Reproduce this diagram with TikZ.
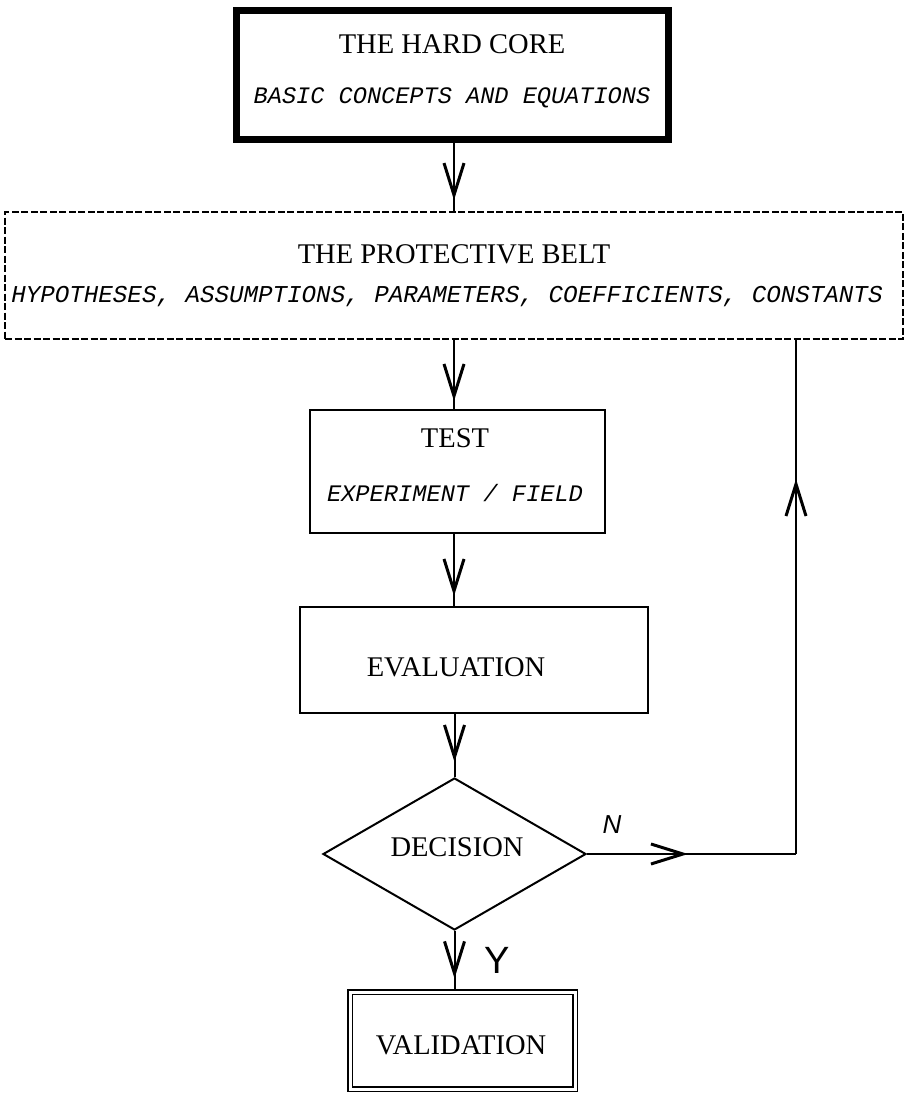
\documentclass[tikz,border=0pt]{standalone}
\usepackage{fontspec}
\setmainfont{Liberation Serif}
\setmonofont{Liberation Mono}
\setsansfont{Liberation Sans}
\usetikzlibrary{arrows.meta,decorations.markings,shapes.geometric}
\begin{document}
\begin{tikzpicture}[x=1pt,y=-1pt,
  boxed/.style={draw, line width=2pt, inner sep=0pt},
  title/.style={font=\fontsize{28.5}{30}\selectfont},
  sub/.style={font=\fontsize{24}{26}\selectfont\ttfamily\itshape},
  hand/.style={font=\fontsize{26}{28}\selectfont\sffamily\itshape},
  conn/.style={line width=2pt},
  headat/.style={postaction={decorate}, decoration={markings,
     mark=at position #1 with {\arrow[line width=3pt]{Straight Barb[length=32pt,width=20pt]}}}}
]
\useasboundingbox (0,0) rectangle (906,1093);

% boxes
\node[boxed, line width=7pt, minimum width=432pt, minimum height=129pt] (hc) at (452,74.5) {};
\node[boxed, line width=1.8pt, dash pattern=on 7pt off 2.5pt, minimum width=898pt, minimum height=127pt] (pb) at (454,275.5) {};
\node[boxed, minimum width=295pt, minimum height=123pt] (test) at (457.5,471.5) {};
\node[boxed, minimum width=348pt, minimum height=106pt] (eval) at (474,660) {};
\node[boxed, diamond, minimum width=263pt, minimum height=152pt, aspect=1.73] (dec) at (454.5,854) {};
\node[draw, line width=1.2pt, double, double distance=3pt, inner sep=0pt, minimum width=225pt, minimum height=97pt] (val) at (462.5,1040.5) {};

% texts
\node[title] (hct) at (452,44) {THE HARD CORE};
\node[sub, font=\fontsize{23.6}{26}\selectfont\ttfamily\itshape] (hcs) at (452,98) {BASIC CONCEPTS AND EQUATIONS};
\node[title] (pbt) at (454,254) {THE PROTECTIVE BELT};
\node[sub, font=\fontsize{24.2}{26}\selectfont\ttfamily\itshape] (pbs) at (447,297) {HYPOTHESES, ASSUMPTIONS, PARAMETERS, COEFFICIENTS, CONSTANTS};
\node[title] (tt) at (455,438) {TEST};
\node[sub, font=\fontsize{23.7}{26}\selectfont\ttfamily\itshape] (ts) at (455,493) {EXPERIMENT / FIELD};
\node[title] (et) at (456,667) {EVALUATION};
\node[title] (dt) at (457,847) {DECISION};
\node[title] (vt) at (461,1045) {VALIDATION};
\node[hand] (nlab) at (612,825) {N};
\node[font=\fontsize{38}{40}\selectfont\sffamily] (ylab) at (497,960) {Y};

% connectors
\coordinate (ax) at (454,0);
\draw[conn, headat=-11pt] (hc.south -| ax) -- (pb.north -| ax);
\draw[conn, headat=-8pt] (pb.south -| ax) -- (test.north -| ax);
\draw[conn, headat=-10pt] (test.south -| ax) -- (eval.north -| ax);
\draw[conn, headat=-15pt] (eval.south -| dec.north) -- (dec.north);
\draw[conn, headat=-13pt] (dec.south) -- (val.north -| dec.south);
\coordinate (corner) at (796,854);
\draw[conn, headat=101pt] (dec.east) -- (corner);
\draw[conn, headat=375pt] (corner) -- (corner |- pb.south);
\end{tikzpicture}
\end{document}
